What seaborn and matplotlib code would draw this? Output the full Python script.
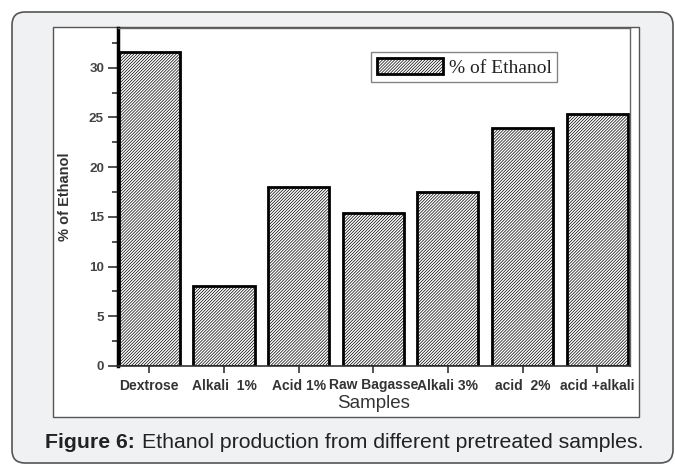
import matplotlib
matplotlib.use('Agg')
import matplotlib.pyplot as plt
import seaborn as sns
import pandas as pd
from matplotlib.patches import FancyBboxPatch, Rectangle, Patch
from matplotlib.ticker import MultipleLocator
from matplotlib.transforms import IdentityTransform

samples = ['Dextrose', 'Alkali  1%', 'Acid 1%', 'Raw Bagasse', 'Alkali 3%', 'acid  2%', 'acid +alkali']
ethanol = [31.55, 8.0, 18.0, 15.35, 17.5, 23.9, 25.3]
y_ticks = [0, 5, 10, 15, 20, 25, 30]

df = pd.DataFrame({'Samples': samples, 'ethanol': ethanol})

sns.set_style('ticks')
plt.rcParams['font.family'] = ['Liberation Sans', 'DejaVu Sans']
plt.rcParams['hatch.linewidth'] = 0.5
plt.rcParams['hatch.color'] = '#4a4a4a'

HATCH = '/' * 11

W, H = 675, 466
fig = plt.figure(figsize=(W / 100, H / 100), dpi=100)
fig.patch.set_facecolor('white')

# card background and inner white image frame, in pixel coordinates
card = FancyBboxPatch((12, 3), 661, 451, boxstyle='round,pad=0,rounding_size=13',
                      transform=IdentityTransform(), facecolor='#f0f1f3',
                      edgecolor='#555555', linewidth=1.2, zorder=-2)
fig.patches.append(card)
frame = Rectangle((53, 49), 586, 390, transform=IdentityTransform(),
                  facecolor='white', edgecolor='#555555', linewidth=1.0, zorder=-1)
fig.patches.append(frame)

ax = fig.add_axes([118 / W, 100 / H, 512 / W, 338 / H])
ax.set_facecolor('white')
sns.barplot(data=df, x='Samples', y='ethanol', ax=ax, color='white',
            edgecolor='black', linewidth=2.0, width=0.82, hatch=HATCH)
for bar in ax.patches:
    bar.set_facecolor('white')

ax.set_xlim(-0.42, 6.44)
ax.set_ylim(0, 34)
ax.set_yticks(y_ticks)
ax.yaxis.set_minor_locator(MultipleLocator(2.5))
ax.tick_params(axis='y', which='major', length=7, width=1.2, color='#333333',
               labelsize=9.7, labelcolor='#444444', pad=3)
ax.tick_params(axis='y', which='minor', length=4, width=1.2, color='#333333')
ax.tick_params(axis='x', length=5, width=1.2, color='#333333',
               labelsize=10, labelcolor='#333333', pad=4)
for lab in ax.get_xticklabels() + ax.get_yticklabels():
    lab.set_fontweight('bold')

ax.set_xlabel('Samples', fontsize=13.5, color='#333333', labelpad=2)
ax.set_ylabel('% of Ethanol', fontsize=10.5, color='#333333', fontweight='bold', labelpad=12)

ax.spines['left'].set_linewidth(2.5)
ax.spines['left'].set_color('black')
ax.spines['bottom'].set_linewidth(1.2)
ax.spines['bottom'].set_color('#333333')
ax.spines['top'].set_linewidth(1.0)
ax.spines['top'].set_color('#666666')
ax.spines['right'].set_linewidth(1.0)
ax.spines['right'].set_color('#666666')

handle = Patch(facecolor='white', edgecolor='black', linewidth=2.0, hatch=HATCH)
leg = ax.legend([handle], ['% of Ethanol'], loc='upper left',
                bbox_to_anchor=(0.494, 0.929), frameon=True, fancybox=False,
                handlelength=3.4, handleheight=0.9, handletextpad=0.3,
                borderpad=0.3, borderaxespad=0,
                prop={'family': 'Liberation Serif', 'size': 14})
leg.get_frame().set_edgecolor('#666666')
leg.get_frame().set_linewidth(1.0)
for t in leg.get_texts():
    t.set_color('#222222')

fig.text(45 / W, 1 - 443 / H, 'Figure 6:', fontsize=15.3, fontweight='bold',
         color='#222222', va='center', ha='left')
fig.text(142 / W, 1 - 443 / H, 'Ethanol production from different pretreated samples.',
         fontsize=15.3, color='#222222', va='center', ha='left')

fig.savefig('out.png', dpi=100)
